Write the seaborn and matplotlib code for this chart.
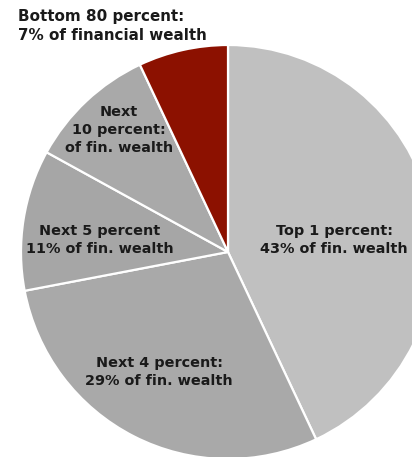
import matplotlib
matplotlib.use("Agg")
import matplotlib.pyplot as plt
import seaborn as sns

# Data: shares of financial wealth
groups = ["Top 1 percent", "Next 4 percent", "Next 5 percent",
          "Next 10 percent", "Bottom 80 percent"]
shares = [43, 29, 11, 10, 7]
slice_colors = ["#c0c0c0", "#a9a9a9", "#a6a6a6", "#a9a9a9", "#8c1100"]
labels = ["Top 1 percent:\n43% of fin. wealth",
          "Next 4 percent:\n29% of fin. wealth",
          "Next 5 percent\n11% of fin. wealth",
          "Next\n10 percent:\nof fin. wealth",
          ""]
title_text = "Bottom 80 percent:\n7% of financial wealth"

sns.set_theme(style="white")
plt.rcParams['font.family'] = ['DejaVu Sans']

W, H = 412, 457
fig = plt.figure(figsize=(W / 100, H / 100), dpi=100)
ax = fig.add_axes([0, 0, 1, 1])

# pie centre in pixels and radius
cx, cy, r = 228, 252, 207

ax.pie(shares, colors=slice_colors, startangle=90, counterclock=False,
       wedgeprops=dict(edgecolor="white", linewidth=1.6))
ax.set_aspect("auto")
ax.set_xlim(-cx / r, (W - cx) / r)
ax.set_ylim(-(H - cy) / r, cy / r)
ax.axis("off")

# label centres in pixel coords
label_pos = [(334, 240), (159, 372), (100, 240), (119, 130)]
for text, (px, py) in zip(labels, label_pos):
    fig.text(px / W, 1 - py / H, text, ha="center", va="center",
             fontsize=10.4, fontweight="bold", color="#1a1a1a",
             linespacing=1.4)

fig.text(18 / W, 1 - 26 / H, title_text, ha="left", va="center",
         fontsize=10.9, fontweight="bold", color="#1a1a1a", linespacing=1.35)

fig.savefig("out.png", dpi=100, facecolor="white")
